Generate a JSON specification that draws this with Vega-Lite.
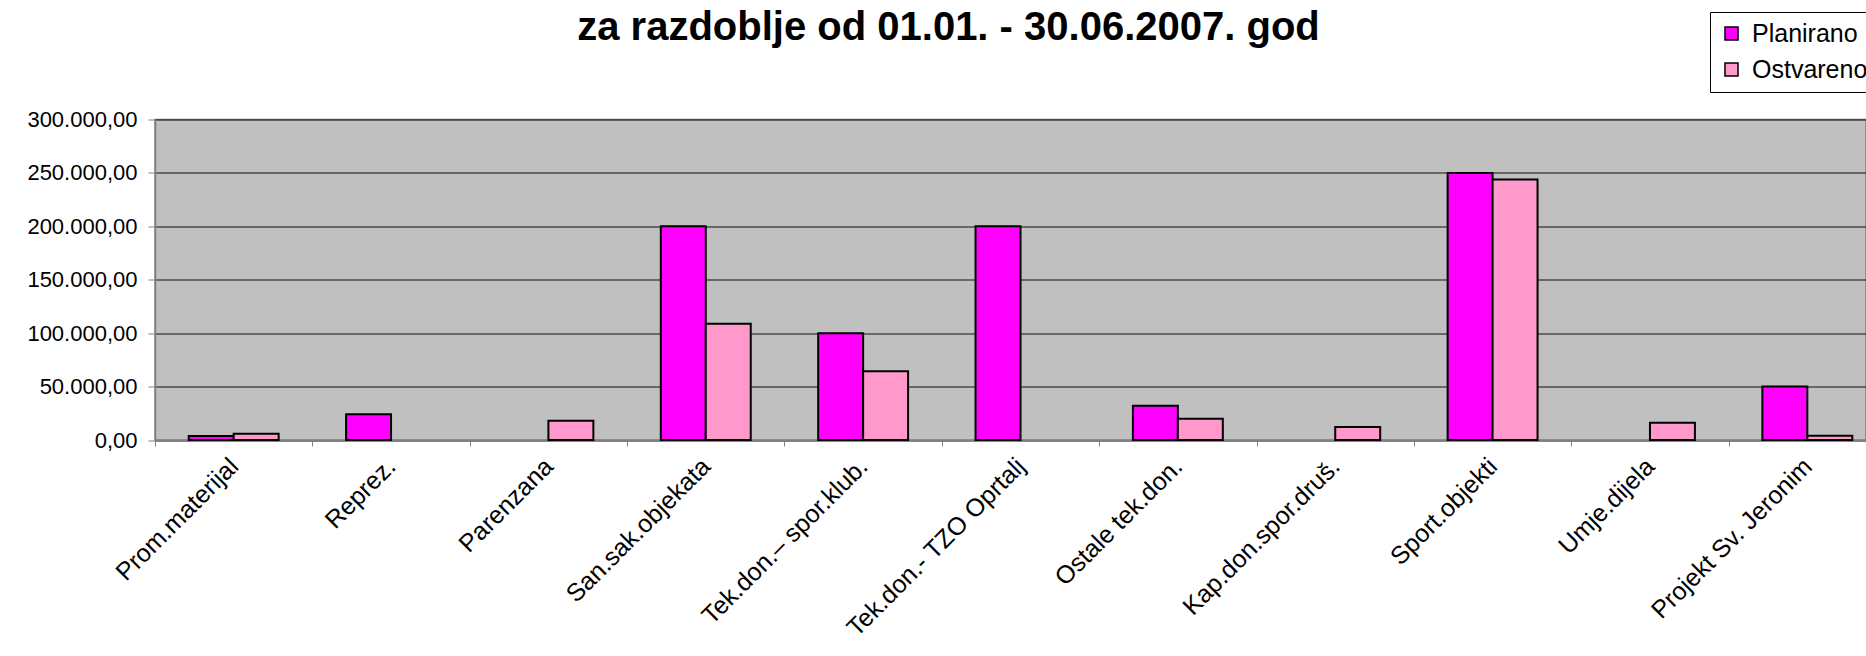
{
  "$schema": "https://vega.github.io/schema/vega-lite/v6.json",
  "autosize": "none",
  "padding": {"left": 155, "top": 119.5, "right": 0, "bottom": 216},
  "width": 1711,
  "height": 320.5,
  "background": "white",
  "title": {
    "text": "za razdoblje od 01.01. - 30.06.2007. god",
    "font": "Liberation Sans",
    "fontSize": 40,
    "fontWeight": "bold",
    "color": "black",
    "anchor": "middle",
    "frame": "group",
    "baseline": "alphabetic",
    "dx": -62,
    "offset": -68
  },
  "data": {
    "values": [
      {"kategorija": "Prom.materijal", "serija": "Planirano", "iznos": 3800},
      {"kategorija": "Prom.materijal", "serija": "Ostvareno", "iznos": 5800},
      {"kategorija": "Reprez.", "serija": "Planirano", "iznos": 24000},
      {"kategorija": "Parenzana", "serija": "Ostvareno", "iznos": 18000},
      {"kategorija": "San.sak.objekata", "serija": "Planirano", "iznos": 200000},
      {"kategorija": "San.sak.objekata", "serija": "Ostvareno", "iznos": 108700},
      {"kategorija": "Tek.don.– spor.klub.", "serija": "Planirano", "iznos": 100000},
      {"kategorija": "Tek.don.– spor.klub.", "serija": "Ostvareno", "iznos": 64300},
      {"kategorija": "Tek.don.- TZO Oprtalj", "serija": "Planirano", "iznos": 200000},
      {"kategorija": "Ostale tek.don.", "serija": "Planirano", "iznos": 32000},
      {"kategorija": "Ostale tek.don.", "serija": "Ostvareno", "iznos": 20000},
      {"kategorija": "Kap.don.spor.druš.", "serija": "Ostvareno", "iznos": 12200},
      {"kategorija": "Sport.objekti", "serija": "Planirano", "iznos": 250000},
      {"kategorija": "Sport.objekti", "serija": "Ostvareno", "iznos": 243800},
      {"kategorija": "Umje.dijela", "serija": "Ostvareno", "iznos": 16200},
      {"kategorija": "Projekt Sv. Jeronim", "serija": "Planirano", "iznos": 50000},
      {"kategorija": "Projekt Sv. Jeronim", "serija": "Ostvareno", "iznos": 4000}
    ]
  },
  "mark": {"type": "bar", "stroke": "black", "strokeWidth": 2},
  "encoding": {
    "x": {
      "field": "kategorija",
      "type": "nominal",
      "sort": ["Prom.materijal", "Reprez.", "Parenzana", "San.sak.objekata", "Tek.don.– spor.klub.", "Tek.don.- TZO Oprtalj", "Ostale tek.don.", "Kap.don.spor.druš.", "Sport.objekti", "Umje.dijela", "Projekt Sv. Jeronim"],
      "scale": {"range": [0, 1731], "paddingInner": 0, "paddingOuter": 0},
      "axis": {
        "title": null,
        "labelAngle": -45,
        "labelAlign": "right",
        "labelBaseline": "middle",
        "labelFont": "Liberation Sans",
        "labelFontSize": 25,
        "labelColor": "black",
        "labelPadding": 16,
        "labelOverlap": false,
        "labelBound": false,
        "labelLimit": 0,
        "tickBand": "extent",
        "tickSize": 6,
        "tickColor": "#808080",
        "domainColor": "#808080",
        "domainWidth": 1.5,
        "grid": false
      }
    },
    "xOffset": {
      "field": "serija",
      "type": "nominal",
      "sort": ["Planirano", "Ostvareno"],
      "scale": {"paddingInner": 0, "paddingOuter": 0.75}
    },
    "y": {
      "field": "iznos",
      "type": "quantitative",
      "scale": {"domain": [0, 300000], "nice": false},
      "axis": {
        "title": null,
        "values": [0, 50000, 100000, 150000, 200000, 250000, 300000],
        "format": ",.2f",
        "labelFont": "Liberation Sans",
        "labelFontSize": 22,
        "labelColor": "black",
        "labelPadding": 11,
        "tickSize": 7,
        "tickColor": "#808080",
        "domainColor": "#808080",
        "domainWidth": 1.5,
        "grid": true,
        "gridColor": "#111111",
        "gridWidth": 1
      }
    },
    "color": {
      "field": "serija",
      "type": "nominal",
      "sort": ["Planirano", "Ostvareno"],
      "scale": {"domain": ["Planirano", "Ostvareno"], "range": ["#FF00FF", "#FF99CC"]},
      "legend": {
        "title": null,
        "orient": "none",
        "legendX": 1555,
        "legendY": -107.5,
        "symbolType": "square",
        "symbolSize": 170,
        "symbolStrokeColor": "black",
        "symbolStrokeWidth": 1.5,
        "symbolOpacity": 1,
        "labelFont": "Liberation Sans",
        "labelFontSize": 25,
        "labelColor": "black",
        "labelOffset": 8,
        "rowPadding": 10,
        "padding": 9,
        "strokeColor": "black",
        "fillColor": "white"
      }
    }
  },
  "config": {
    "locale": {
      "number": {"decimal": ",", "thousands": ".", "grouping": [3], "currency": ["", ""]}
    },
    "view": {"fill": "#C0C0C0", "stroke": "#808080", "strokeWidth": 1.5}
  }
}
